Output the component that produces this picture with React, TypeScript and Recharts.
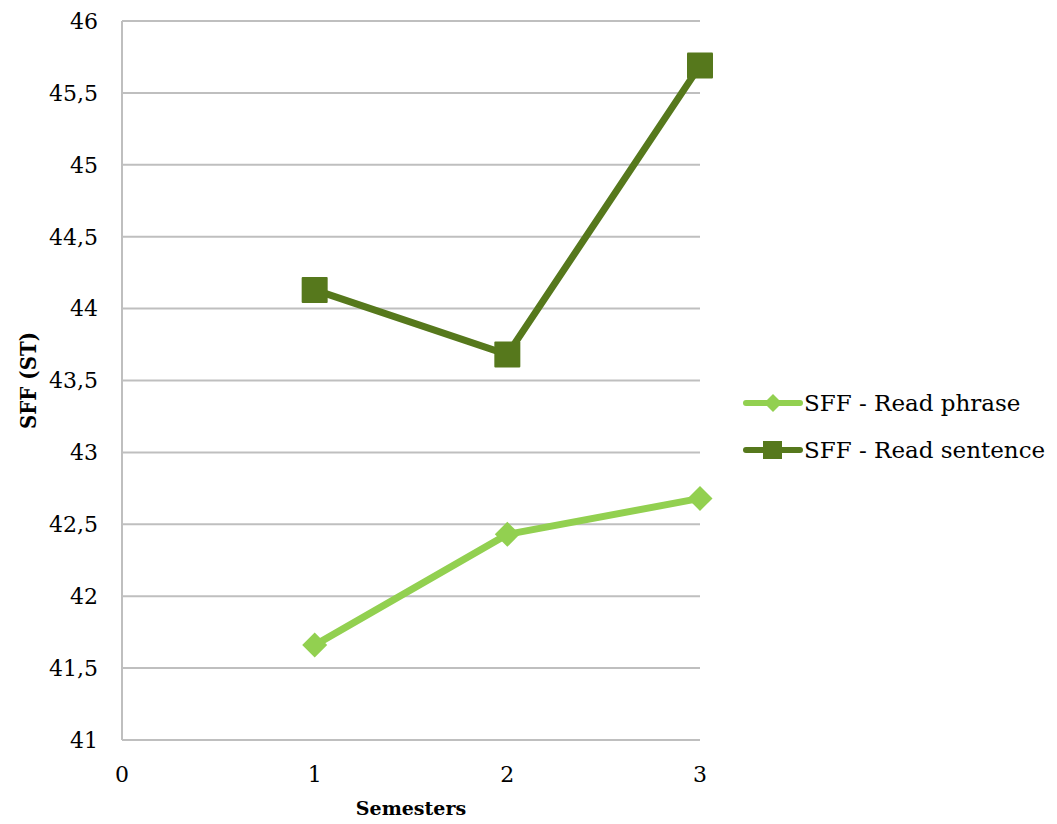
import React from 'react';
import { LineChart, Line, XAxis, YAxis, CartesianGrid } from 'recharts';

const semesters = [1, 2, 3];
const readPhrase = [41.66, 42.43, 42.68];
const readSentence = [44.13, 43.68, 45.69];
const yTicks = [41, 41.5, 42, 42.5, 43, 43.5, 44, 44.5, 45, 45.5, 46];
const xTicks = [0, 1, 2, 3];

const PHRASE_COLOR = '#92D050';
const SENTENCE_COLOR = '#56781C';
const FONT = '"DejaVu Serif", serif';

const data = semesters.map((s, i) => ({
  semester: s,
  phrase: readPhrase[i],
  sentence: readSentence[i],
}));

const Diamond = (props: any) => {
  const { cx, cy } = props;
  if (cx == null || cy == null) return null;
  const r = 12.5;
  return (
    <path
      d={`M${cx},${cy - r} L${cx + r},${cy} L${cx},${cy + r} L${cx - r},${cy} Z`}
      fill={PHRASE_COLOR}
    />
  );
};

const Square = (props: any) => {
  const { cx, cy } = props;
  if (cx == null || cy == null) return null;
  const h = 13;
  return <rect x={cx - h} y={cy - h} width={h * 2} height={h * 2} rx={1} fill={SENTENCE_COLOR} />;
};

const legendItems = [
  { label: 'SFF - Read phrase', color: PHRASE_COLOR, shape: 'diamond' },
  { label: 'SFF - Read sentence', color: SENTENCE_COLOR, shape: 'square' },
];

const ChartLegend = () => (
  <div
    style={{
      position: 'absolute',
      left: 735,
      top: 371,
      fontFamily: FONT,
      fontSize: 23,
      color: '#000',
      whiteSpace: 'nowrap',
    }}
  >
    {legendItems.map((it) => (
      <div key={it.label} style={{ display: 'flex', alignItems: 'center', height: 47 }}>
        <svg width={60} height={24} style={{ marginRight: 1 }}>
          <line x1={3} y1={12} x2={57} y2={12} stroke={it.color} strokeWidth={6} strokeLinecap="round" />
          {it.shape === 'diamond' ? (
            <path d="M30,3 L39,12 L30,21 L21,12 Z" fill={it.color} />
          ) : (
            <rect x={20} y={3} width={19} height={18} fill={it.color} />
          )}
        </svg>
        <span>{it.label}</span>
      </div>
    ))}
  </div>
);

export default function App() {
  return (
    <div style={{ position: 'relative', width: 1041, height: 816 }}>
      <LineChart
        width={1041}
        height={816}
        data={data}
        margin={{ top: 13, right: 349, bottom: 54, left: 34 }}
      >
        <CartesianGrid vertical={false} stroke="#BFBFBF" strokeWidth={2} />
        <XAxis
          dataKey="semester"
          type="number"
          domain={[0, 3]}
          ticks={xTicks}
          height={30}
          stroke="#BFBFBF"
          strokeWidth={2}
          tickLine={false}
          tickMargin={20}
          tick={{ fill: '#000', fontFamily: FONT, fontSize: 22 }}
          label={{
            value: 'Semesters',
            position: 'bottom',
            offset: 32,
            fill: '#000',
            fontFamily: FONT,
            fontSize: 19,
            fontWeight: 'bold',
          }}
        />
        <YAxis
          type="number"
          domain={[41, 46]}
          ticks={yTicks}
          width={80}
          stroke="#BFBFBF"
          strokeWidth={2}
          tickLine={false}
          tickMargin={18}
          interval={0}
          tickFormatter={(v: number) => String(v).replace('.', ',')}
          tick={{ fill: '#000', fontFamily: FONT, fontSize: 22 }}
          label={{
            value: 'SFF (ST)',
            angle: -90,
            position: 'insideLeft',
            offset: -14,
            fill: '#000',
            fontFamily: '"DejaVu Serif Condensed", "DejaVu Serif", serif',
            fontSize: 22,
            fontWeight: 'bold',
            textAnchor: 'middle',
          }}
        />
        <Line
          type="linear"
          dataKey="phrase"
          name="SFF - Read phrase"
          stroke={PHRASE_COLOR}
          strokeWidth={7}
          dot={<Diamond />}
          activeDot={false}
          isAnimationActive={false}
        />
        <Line
          type="linear"
          dataKey="sentence"
          name="SFF - Read sentence"
          stroke={SENTENCE_COLOR}
          strokeWidth={7}
          dot={<Square />}
          activeDot={false}
          isAnimationActive={false}
        />
      </LineChart>
      <ChartLegend />
    </div>
  );
}
